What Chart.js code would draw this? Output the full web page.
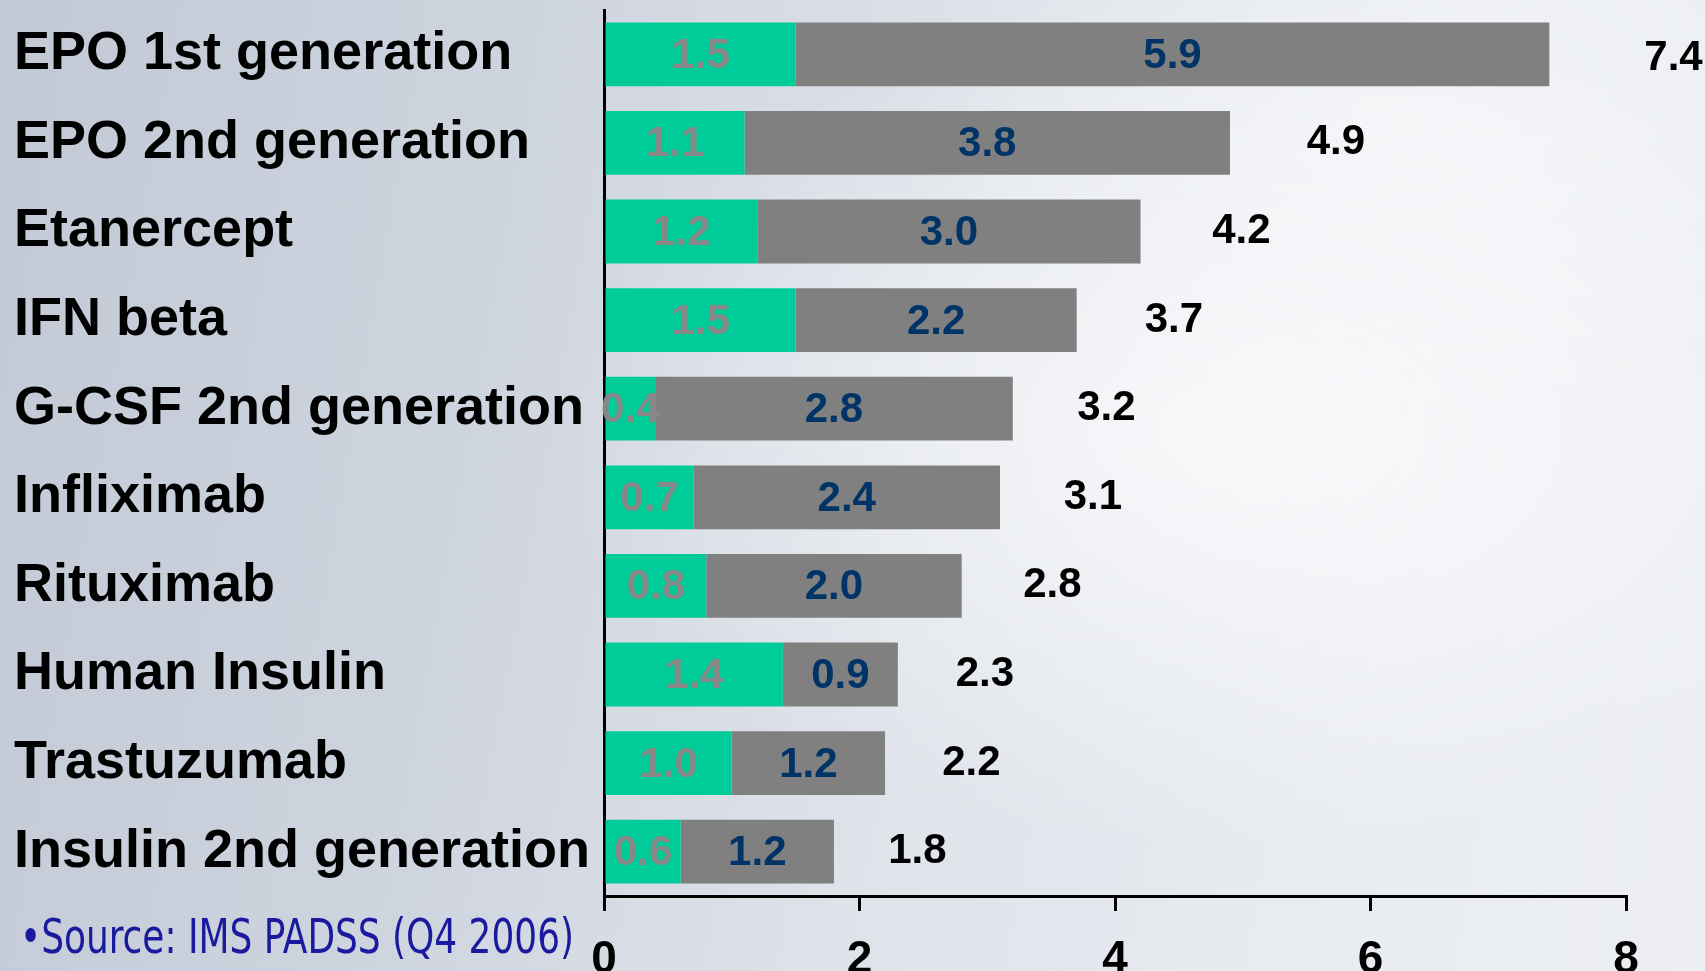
<!DOCTYPE html>
<html>
<head>
<meta charset="utf-8">
<script src="https://cdn.jsdelivr.net/npm/chart.js@4.4.1/dist/chart.umd.min.js"></script>
<style>
  html, body { margin: 0; padding: 0; }
  body {
    width: 1705px; height: 971px; overflow: hidden; position: relative;
    background:
      radial-gradient(ellipse 700px 420px at 1250px 430px, rgba(255,255,255,0.75), rgba(255,255,255,0) 100%),
      radial-gradient(ellipse 500px 300px at 1400px 120px, rgba(255,255,255,0.45), rgba(255,255,255,0) 100%),
      linear-gradient(100deg, #c2c9d5 0%, #cfd5df 30%, #dfe3ea 55%, #e9ecf1 80%, #eceef2 100%);
  }
  #wrap { position: absolute; left: 0; top: 0; width: 1705px; height: 971px; }
  #source {
    position: absolute; left: 20px; top: 912px;
    font-family: "Liberation Sans Narrow", "Arial Narrow", "DejaVu Sans Condensed", sans-serif;
    font-size: 48px; color: #1a1a9e; white-space: nowrap; line-height: 1;
    transform-origin: left top;
  }
</style>
</head>
<body>
<div id="wrap"><canvas id="c" width="1705" height="971"></canvas></div>
<div id="source">•Source: IMS PADSS (Q4 2006)</div>
<script>
const categories = ["EPO 1st generation", "EPO 2nd generation", "Etanercept", "IFN beta",
  "G-CSF 2nd generation", "Infliximab", "Rituximab", "Human Insulin", "Trastuzumab",
  "Insulin 2nd generation"];
const greenValues = [1.5, 1.1, 1.2, 1.5, 0.4, 0.7, 0.8, 1.4, 1.0, 0.6];
const grayValues  = [5.9, 3.8, 3.0, 2.2, 2.8, 2.4, 2.0, 0.9, 1.2, 1.2];
const xTicks = [0, 2, 4, 6, 8];

const totals = greenValues.map((v, i) => v + grayValues[i]);

const labelPlugin = {
  id: 'barLabels',
  afterDatasetsDraw(chart) {
    const ctx = chart.ctx;
    const xs = chart.scales.x;
    ctx.save();
    ctx.textAlign = 'center';
    ctx.textBaseline = 'middle';
    ctx.font = 'bold 42px "Liberation Sans", Arial, sans-serif';
    const colors = ['#878787', '#003366'];
    [0, 1].forEach(di => {
      const meta = chart.getDatasetMeta(di);
      const vals = chart.data.datasets[di].data;
      meta.data.forEach((el, j) => {
        ctx.fillStyle = colors[di];
        ctx.fillText(vals[j].toFixed(1), (el.x + el.base) / 2, el.y + 2);
      });
    });
    const meta1 = chart.getDatasetMeta(1);
    ctx.fillStyle = '#000000';
    meta1.data.forEach((el, j) => {
      const t = totals[j];
      const px = xs.getPixelForValue(1.057 * t + 0.55);
      ctx.fillText(t.toFixed(1), px, el.y + (j === 0 ? 4 : 0));
    });
    ctx.restore();
  }
};

new Chart(document.getElementById('c'), {
  type: 'bar',
  data: {
    labels: categories,
    datasets: [
      { label: 'A', data: greenValues, backgroundColor: '#00cc99', borderWidth: 0 },
      { label: 'B', data: grayValues, backgroundColor: '#808080', borderWidth: 0 }
    ]
  },
  options: {
    indexAxis: 'y',
    responsive: false,
    animation: false,
    layout: { padding: { left: 14, right: 79, top: 10, bottom: 0 } },
    plugins: { legend: { display: false }, tooltip: { enabled: false } },
    scales: {
      x: {
        stacked: true, min: 0, max: 8,
        afterBuildTicks(scale) { scale.ticks = xTicks.map(v => ({ value: v })); },
        afterFit(scale) { scale.height = 75; scale.paddingLeft = 0; scale.paddingRight = 0; },
        grid: { display: true, drawOnChartArea: false, drawTicks: true, tickLength: 15, color: '#000', lineWidth: 3 },
        border: { display: true, color: '#000', width: 3 },
        ticks: {
          color: '#000', padding: 22,
          font: { family: '"Liberation Sans Narrow", "Arial Narrow", "Liberation Sans", sans-serif', size: 46, weight: 'bold' }
        }
      },
      y: {
        stacked: true,
        afterFit(scale) { scale.width = 590; scale.paddingTop = 0; scale.paddingBottom = 0; },
        grid: { display: false },
        border: { display: true, color: '#000', width: 3 },
        ticks: {
          color: '#000', crossAlign: 'far', padding: 0,
          font: { family: '"Liberation Sans", Arial, sans-serif', size: 54, weight: 'bold' }
        }
      }
    }
  },
  plugins: [labelPlugin]
});

const src = document.getElementById('source');
const w = src.getBoundingClientRect().width;
src.style.transform = 'scaleX(' + (554 / w) + ')';
</script>
</body>
</html>
